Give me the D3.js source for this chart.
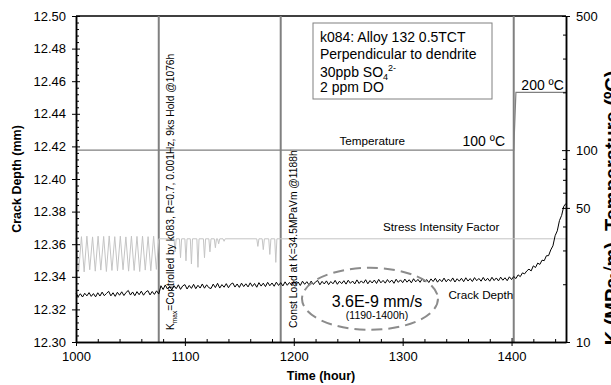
<!DOCTYPE html>
<html>
<head>
<meta charset="utf-8">
<script src="https://cdn.jsdelivr.net/npm/d3@7"></script>
<style>
  body { margin: 0; background: #fff; }
  svg { font-family: "Liberation Sans", Arial, sans-serif; }
</style>
</head>
<body>
<div id="chart"></div>
<script>
// crack depth (mm), sampled every 2 hours from 1000 h
var crackStart = 1000, crackStep = 2;
var crackDepth = [
  12.3300, 12.3279, 12.3296, 12.3276, 12.3299, 12.3283, 12.3303, 12.3280, 12.3297, 12.3277,
  12.3302, 12.3282, 12.3306, 12.3284, 12.3298, 12.3311, 12.3283, 12.3302, 12.3280, 12.3305,
  12.3287, 12.3308, 12.3285, 12.3304, 12.3316, 12.3288, 12.3307, 12.3284, 12.3309, 12.3290,
  12.3312, 12.3287, 12.3306, 12.3315, 12.3289, 12.3310, 12.3292, 12.3314, 12.3294,
  12.3345, 12.3322, 12.3350, 12.3325, 12.3342, 12.3319, 12.3346, 12.3327, 12.3351, 12.3323,
  12.3344, 12.3352, 12.3325, 12.3347, 12.3329, 12.3354, 12.3327, 12.3348, 12.3331, 12.3356,
  12.3330, 12.3351, 12.3333, 12.3328, 12.3355, 12.3334, 12.3360, 12.3331, 12.3352, 12.3336,
  12.3358, 12.3333, 12.3354, 12.3362, 12.3337, 12.3356, 12.3335, 12.3361, 12.3340, 12.3357,
  12.3338, 12.3363, 12.3341, 12.3359, 12.3336, 12.3364, 12.3343, 12.3361, 12.3340, 12.3366,
  12.3345, 12.3362, 12.3342, 12.3367, 12.3347, 12.3364, 12.3344, 12.3369, 12.3348, 12.3365,
  12.3349, 12.3371, 12.3352, 12.3368, 12.3347, 12.3373, 12.3354, 12.3370, 12.3350, 12.3374,
  12.3353, 12.3369, 12.3377, 12.3351, 12.3372, 12.3356, 12.3375, 12.3352, 12.3371, 12.3357,
  12.3378, 12.3354, 12.3373, 12.3358, 12.3376, 12.3355, 12.3379, 12.3360, 12.3374, 12.3356,
  12.3381, 12.3359, 12.3375, 12.3361, 12.3382, 12.3357, 12.3377, 12.3362, 12.3380, 12.3359,
  12.3384, 12.3363, 12.3378, 12.3361, 12.3383, 12.3365, 12.3380, 12.3360, 12.3385, 12.3366,
  12.3381, 12.3364, 12.3386, 12.3367, 12.3382, 12.3363, 12.3388, 12.3369, 12.3384, 12.3366,
  12.3389, 12.3368, 12.3383, 12.3365, 12.3387, 12.3371, 12.3391, 12.3367, 12.3385, 12.3370,
  12.3392, 12.3369, 12.3386, 12.3372, 12.3393, 12.3368, 12.3388, 12.3373, 12.3391, 12.3370,
  12.3394, 12.3374, 12.3389, 12.3371, 12.3395, 12.3376, 12.3390, 12.3373, 12.3396, 12.3375,
  12.3391, 12.3373, 12.3397, 12.3377, 12.3393, 12.3375, 12.3398, 12.3379, 12.3394, 12.3376, 12.3400, 12.3383,
  12.3402, 12.3389, 12.3412, 12.3401, 12.3424, 12.3418, 12.3436, 12.3447, 12.3436, 12.3467,
  12.3457, 12.3484, 12.3476, 12.3502, 12.3499, 12.3529, 12.3530, 12.3565, 12.3590, 12.3652,
  12.3682, 12.3745, 12.3777, 12.3833, 12.3850
];

// stress intensity factor K (MPa√m): [hour, K]
var stressK = [
  [1000, 34.8], [1002.5, 23.6], [1005, 35.4], [1007.5, 23.2], [1010, 35.6], [1012.6, 23.8],
  [1015.2, 35.3], [1017.7, 23.4], [1020.3, 35.6], [1022.8, 23.7], [1025.4, 35.5], [1027.9, 23.3],
  [1030.5, 35.7], [1033, 23.6], [1035.6, 35.4], [1038.1, 23.5], [1040.7, 35.6], [1043.2, 23.8],
  [1045.8, 35.3], [1048.3, 23.4], [1050.9, 35.6], [1053.4, 23.6], [1056, 35.5], [1058.5, 23.3],
  [1061.1, 35.6], [1063.6, 23.7], [1066.2, 35.4], [1068.7, 23.5], [1071.3, 35.6], [1073.8, 23.9],
  [1076, 34.5], [1090, 34.5], [1091, 29.5], [1092, 34.5], [1095, 34.5], [1096, 27.5], [1097, 34.5],
  [1100, 34.5], [1101, 26.5], [1102, 34.5], [1105, 34.5], [1106, 25.5], [1107, 34.5],
  [1111, 34.5], [1112, 24.5], [1113, 34.5], [1117, 34.5], [1118, 27.5], [1119, 34.5],
  [1122, 34.5], [1123, 29.5], [1124, 34.5], [1127, 34.5], [1128, 31.0], [1129, 34.5],
  [1130, 34.5], [1131, 32.5], [1132, 34.5], [1135, 34.5], [1136, 33.5], [1137, 34.5],
  [1166, 34.5], [1167, 31.5], [1168, 34.5], [1171, 34.5], [1172, 30.3], [1173, 34.5],
  [1177, 34.5], [1178, 28.6], [1179, 34.5], [1182.5, 34.5], [1183.5, 26.0], [1184.5, 34.5],
  [1450, 34.5]
];

// temperature (ºC): [hour, T]
var temperature = [[1000, 100], [1402, 100], [1404, 200], [1450, 200]];

// event markers (hours)
var events = [1076, 1188, 1402];

var xMajor = [1000, 1100, 1200, 1300, 1400];
var yMajor = [12.30, 12.32, 12.34, 12.36, 12.38, 12.40, 12.42, 12.44, 12.46, 12.48, 12.50];
var kMajor = [10, 50, 100, 500];
var kMinor = [20, 30, 40, 60, 70, 80, 90, 200, 300, 400];

var margin = { top: 16, right: 45, bottom: 43, left: 76 },
    width = 611 - margin.left - margin.right,
    height = 385 - margin.top - margin.bottom;

var root = d3.select("#chart").append("svg")
    .attr("width", 611)
    .attr("height", 385);
root.append("rect").attr("width", 611).attr("height", 385).attr("fill", "#fff");

var svg = root.append("g")
    .attr("transform", "translate(" + margin.left + "," + margin.top + ")");

var x = d3.scaleLinear().domain([1000, 1450]).range([0, width]);
var y = d3.scaleLinear().domain([12.30, 12.50]).range([height, 0]);
var k = d3.scaleLog().domain([10, 500]).range([height, 0]);

var xMinor = d3.range(1000, 1451, 20).filter(function (d) { return d % 100 != 0; });
var yMinor = d3.range(0, 51).map(function (i) { return 12.30 + i * 0.004; })
    .filter(function (d, i) { return i % 5 != 0; });

// frame top
svg.append("line").attr("x1", 0).attr("x2", width).attr("y1", 0).attr("y2", 0)
    .attr("stroke", "#000").attr("stroke-width", 1.5);

// temperature
svg.append("path")
    .datum(temperature)
    .attr("fill", "none")
    .attr("stroke", "#808080")
    .attr("stroke-width", 1.2)
    .attr("d", d3.line()
        .x(function (d) { return x(d[0]); })
        .y(function (d) { return k(d[1]); }));

// event lines
svg.selectAll(".event")
    .data(events)
    .enter().append("line")
    .attr("class", "event")
    .attr("x1", function (d) { return x(d); })
    .attr("x2", function (d) { return x(d); })
    .attr("y1", 0).attr("y2", height)
    .attr("stroke", "#808080")
    .attr("stroke-width", 2);

// stress intensity factor
svg.append("path")
    .datum(stressK)
    .attr("fill", "none")
    .attr("stroke", "#c4c4c4")
    .attr("stroke-width", 1)
    .attr("d", d3.line()
        .x(function (d) { return x(d[0]); })
        .y(function (d) { return k(d[1]); }));

// crack depth
svg.append("path")
    .datum(crackDepth)
    .attr("fill", "none")
    .attr("stroke", "#000")
    .attr("stroke-width", 1)
    .attr("d", d3.line()
        .x(function (d, i) { return x(crackStart + i * crackStep); })
        .y(function (d) { return y(d); }));

// axes
function styleAxis(g) {
    g.selectAll("path, line").attr("stroke", "#000");
    g.select(".domain").attr("stroke-width", 1.5);
    g.selectAll("text").attr("fill", "#000").style("font-size", "13px")
        .style("font-family", "'Liberation Sans', Arial, sans-serif");
}

svg.append("g")
    .attr("transform", "translate(0," + height + ")")
    .call(d3.axisBottom(x).tickValues(xMinor).tickSize(-3).tickSizeOuter(0).tickFormat(""))
    .call(styleAxis);
var xAxis = svg.append("g")
    .attr("transform", "translate(0," + height + ")")
    .call(d3.axisBottom(x).tickValues(xMajor).tickSize(4).tickSizeOuter(0).tickPadding(6)
        .tickFormat(d3.format("d")))
    .call(styleAxis);
xAxis.selectAll(".tick line").attr("y1", -4);

svg.append("g")
    .call(d3.axisLeft(y).tickValues(yMinor).tickSize(-3).tickSizeOuter(0).tickFormat(""))
    .call(styleAxis);
var yAxis = svg.append("g")
    .call(d3.axisLeft(y).tickValues(yMajor).tickSize(4).tickSizeOuter(0).tickPadding(6)
        .tickFormat(d3.format(".2f")))
    .call(styleAxis);
yAxis.selectAll(".tick line").attr("x1", 4);

svg.append("g")
    .attr("transform", "translate(" + width + ",0)")
    .call(d3.axisRight(k).tickValues(kMinor).tickSize(-3).tickSizeOuter(0).tickFormat(""))
    .call(styleAxis);
var kAxis = svg.append("g")
    .attr("transform", "translate(" + width + ",0)")
    .call(d3.axisRight(k).tickValues(kMajor).tickSize(4).tickSizeOuter(0).tickPadding(6)
        .tickFormat(d3.format("d")))
    .call(styleAxis);
kAxis.selectAll(".tick line").attr("x1", -4);

// axis titles
root.append("text")
    .attr("transform", "translate(21,179) rotate(-90)")
    .attr("text-anchor", "middle")
    .style("font-size", "12.5px").style("font-weight", "bold")
    .text("Crack Depth  (mm)");

root.append("text")
    .attr("x", 321).attr("y", 380)
    .attr("text-anchor", "middle")
    .style("font-size", "12.5px").style("font-weight", "bold")
    .text("Time (hour)");

// right title runs off the page edge, as in the original figure
root.append("text")
    .attr("transform", "translate(619,208) rotate(-90)")
    .attr("text-anchor", "middle")
    .style("font-size", "20px").style("font-weight", "bold")
    .text("K (MPa\u221Am), Temperature (\u00BAC)");

// series labels
function label(txt, px, py, size) {
    return svg.append("text").attr("x", px).attr("y", py)
        .style("font-size", size + "px").text(txt);
}
label("Temperature", x(1242), k(100) - 5, 11.7);
label("100 \u00BAC", x(1355), k(100) - 4.5, 14);
label("200 \u00BAC", x(1409), k(200) - 2.5, 14);
label("Stress Intensity Factor", x(1282), k(34.5) - 7.5, 11.7);
label("Crack Depth", x(1342), y(12.3265), 11.7);

// vertical annotations
var ann1 = svg.append("text")
    .attr("transform", "translate(" + (x(1076) + 15) + "," + (height - 12) + ") rotate(-90)")
    .style("font-size", "10.3px");
ann1.append("tspan").text("K");
ann1.append("tspan").attr("dy", 3).style("font-size", "6.5px").text("max");
ann1.append("tspan").attr("dy", -3).text("=Controlled by k083, R=0.7, 0.001Hz, 9ks Hold @1076h");

svg.append("text")
    .attr("transform", "translate(" + (x(1188) + 16) + "," + (height - 14) + ") rotate(-90)")
    .style("font-size", "10.3px")
    .text("Const Load at K=34.5MPaVm @1188h");

// info box
var box = svg.append("g").attr("transform", "translate(" + (313 - margin.left) + "," + (23 - margin.top) + ")");
box.append("rect").attr("width", 179).attr("height", 76)
    .attr("fill", "#fff").attr("stroke", "#808080").attr("stroke-width", 1);
var boxLines = ["k084: Alloy 132 0.5TCT", "Perpendicular to dendrite"];
boxLines.forEach(function (t, i) {
    box.append("text").attr("x", 7).attr("y", 19 + i * 17).style("font-size", "14px").text(t);
});
var so4 = box.append("text").attr("x", 7).attr("y", 54).style("font-size", "14px");
so4.append("tspan").text("30ppb SO");
so4.append("tspan").attr("dy", 3).style("font-size", "9px").text("4");
so4.append("tspan").attr("dy", -9).style("font-size", "9px").text("2-");
box.append("text").attr("x", 7).attr("y", 69).style("font-size", "14px").text("2 ppm DO");

// growth rate ellipse
var ex = x(1270), ey = y(12.3265);
svg.append("ellipse")
    .attr("cx", ex).attr("cy", ey).attr("rx", 68).attr("ry", 31)
    .attr("fill", "none").attr("stroke", "#8c8c8c").attr("stroke-width", 2)
    .attr("stroke-dasharray", "11,6");
svg.append("text").attr("x", ex + 7).attr("y", ey + 8)
    .attr("text-anchor", "middle").style("font-size", "16px").text("3.6E-9 mm/s");
svg.append("text").attr("x", ex + 7).attr("y", ey + 20)
    .attr("text-anchor", "middle").style("font-size", "10.5px").text("(1190-1400h)");
</script>
</body>
</html>
